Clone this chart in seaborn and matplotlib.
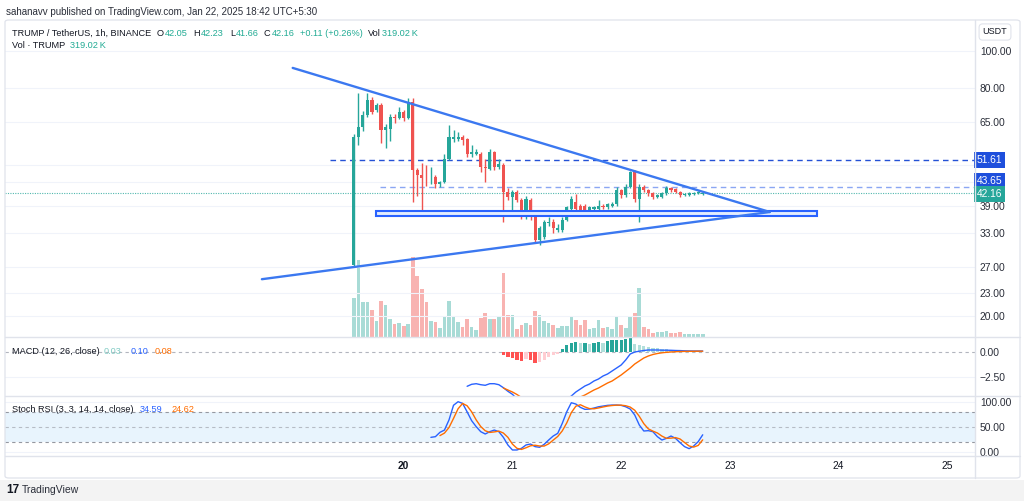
import numpy as np
import pandas as pd
import matplotlib
matplotlib.use("Agg")
import matplotlib.pyplot as plt
import matplotlib.transforms as mtransforms
from matplotlib.patches import Rectangle, FancyBboxPatch
from matplotlib.lines import Line2D
import seaborn as sns

# ---------------- data (1h candles, index 0 = Jan 19 13:00) ----------------
hours = list(range(78))
opens = [27.3, 59.3, 63.1, 67.8, 74.2, 69.8, 72.0, 61.8, 62.4, 67.0,
         66.4, 69.0, 66.4, 73.4, 48.4, 47.0, 46.3, 46.1, 46.5, 44.7,
         45.1, 52.0, 58.7, 58.7, 59.3, 58.7, 53.6, 53.6, 53.6, 49.4,
         48.9, 54.2, 49.4, 50.0, 42.5, 41.2, 42.5, 40.4, 36.5, 40.4,
         36.5, 31.7, 32.4, 35.1, 35.4, 33.7, 33.7, 35.8, 38.3, 39.9,
         39.1, 39.1, 38.0, 38.3, 38.3, 39.1, 38.7, 39.1, 39.5, 42.9,
         41.6, 43.8, 47.9, 40.8, 43.8, 42.9, 42.1, 41.2, 41.2, 42.1,
         43.6, 43.3, 42.5, 41.6, 41.6, 42.0, 42.1, 42.05]
highs = [60.5, 77.3, 69.5, 77.3, 75.5, 73.0, 73.0, 64.0, 68.0, 68.0,
         71.0, 69.8, 75.0, 75.0, 49.0, 50.5, 50.0, 49.5, 47.0, 45.5,
         53.5, 63.8, 62.0, 61.0, 60.0, 59.0, 56.5, 55.0, 54.2, 52.0,
         55.0, 54.5, 52.0, 50.5, 43.5, 43.0, 43.0, 41.0, 41.5, 41.0,
         37.0, 34.5, 35.8, 36.5, 36.0, 35.0, 36.5, 39.0, 41.5, 42.0,
         39.5, 39.5, 39.0, 39.0, 40.5, 39.5, 39.8, 40.0, 43.8, 43.3,
         44.5, 48.2, 48.4, 44.5, 44.2, 43.3, 42.5, 42.0, 42.4, 43.9,
         43.8, 43.5, 42.8, 42.2, 42.4, 42.5, 42.6, 42.23]
lows = [27.0, 56.5, 61.5, 67.0, 68.0, 69.0, 57.0, 55.3, 58.0, 64.5,
        66.0, 65.5, 66.0, 40.0, 41.5, 37.6, 44.0, 44.5, 43.5, 43.8,
        44.8, 51.5, 57.5, 58.0, 56.5, 52.5, 52.5, 53.0, 48.0, 45.1,
        48.5, 48.5, 48.8, 35.4, 40.5, 38.0, 40.0, 36.0, 36.0, 35.8,
        31.1, 30.8, 32.0, 34.5, 33.0, 33.2, 33.2, 35.5, 38.0, 38.0,
        37.5, 37.0, 37.5, 37.8, 37.8, 38.3, 38.3, 38.7, 39.0, 41.0,
        41.2, 43.5, 40.0, 35.4, 42.5, 41.5, 40.8, 40.9, 40.9, 41.8,
        42.5, 42.1, 41.3, 41.4, 41.4, 41.8, 41.9, 41.66]
closes = [59.3, 63.1, 67.8, 74.2, 69.0, 72.0, 61.8, 63.1, 67.0, 66.4,
          69.0, 66.4, 73.4, 48.4, 47.0, 46.3, 46.1, 46.3, 44.7, 45.1,
          52.0, 59.3, 59.3, 59.3, 58.1, 53.6, 54.2, 54.2, 49.4, 49.2,
          54.2, 49.4, 50.4, 42.5, 41.2, 42.5, 40.4, 36.5, 40.8, 36.5,
          31.7, 34.1, 35.4, 35.4, 34.1, 34.1, 35.8, 38.7, 40.8, 38.3,
          38.0, 37.8, 38.7, 38.7, 39.1, 38.7, 39.5, 39.5, 42.9, 41.6,
          43.8, 47.9, 40.8, 43.8, 42.9, 42.1, 41.2, 41.6, 42.1, 43.6,
          42.9, 42.5, 41.6, 41.9, 42.2, 42.3, 42.5, 42.16]
volume_k = [3680, 7200, 3300, 3300, 2560, 1500, 3360, 2980, 1700, 1220,
            1280, 1060, 1220, 7520, 5760, 4480, 3300, 1500, 1380, 800,
            1860, 3360, 1860, 1440, 960, 1700, 960, 640, 1820, 2240,
            1700, 1700, 1860, 5980, 2080, 2080, 740, 1120, 1280, 1120,
            2460, 2080, 1500, 1280, 1120, 800, 1060, 1060, 2020, 1600,
            1120, 1600, 740, 800, 1600, 800, 960, 740, 1860, 1120,
            800, 1920, 2240, 4580, 960, 740, 420, 480, 480, 540,
            420, 420, 480, 320, 320, 320, 320, 319]

nan = np.nan
macd_line = [nan] * 25 + [-3.43, -3.23, -3.17, -3.27, -3.33, -3.17, -3.17, -3.27, -3.57, -3.93,
                          -4.23, -4.7, -5.2, -5.3, -5.5, -6.0, -6.1, -5.9, -5.6, -5.4,
                          -5.2, -5.0, -4.7, -4.4, -4.0, -3.7, -3.4, -3.2, -2.9, -2.7,
                          -2.4, -2.2, -1.9, -1.6, -1.3, -0.8, -0.2, 0.0, 0.08, 0.15,
                          0.2, 0.2, 0.2, 0.18, 0.18, 0.17, 0.15, 0.14, 0.12, 0.11,
                          0.1, 0.1, 0.1]
macd_signal = [nan] * 33 + [-3.6, -3.8, -4.0, -4.25, -4.55, -4.8, -5.0, -5.2, -5.3, -5.3,
                            -5.3, -5.25, -5.15, -5.1, -5.0, -4.9, -4.7, -4.5, -4.3, -4.05,
                            -3.8, -3.6, -3.35, -3.1, -2.9, -2.6, -2.3, -1.95, -1.6, -1.2,
                            -0.9, -0.6, -0.4, -0.25, -0.15, -0.08, -0.03, 0.0, 0.03, 0.05,
                            0.06, 0.07, 0.07, 0.08, 0.08]
macd_hist = [nan] * 33 + [-0.33, -0.5, -0.6, -0.77, -0.93, -0.7, -0.83, -1.07, -1.03, -0.77,
                          -0.5, -0.33, -0.17, 0.33, 0.67, 0.9, 1.0, 0.9, 0.9, 0.83,
                          0.9, 1.0, 0.9, 1.1, 1.17, 1.23, 1.23, 1.33, 1.43, 0.83,
                          0.67, 0.57, 0.5, 0.43, 0.37, 0.3, 0.27, 0.23, 0.2, 0.17,
                          0.13, 0.1, 0.1, 0.07, 0.03]
stoch_k = [nan] * 17 + [29.6, 30.9, 39.5, 44, 64, 93, 100, 96.7, 80, 62.5,
                        50.7, 40.8, 36.2, 40.8, 44, 40.8, 29.6, 14.5, 4.6, 4.6,
                        7.9, 14.5, 16.4, 11.2, 9.9, 15.8, 24.3, 32.2, 37.5, 57.2,
                        80.3, 98, 95.4, 88.8, 84.9, 85.5, 87.5, 90, 91.4, 92.8,
                        93.4, 93.4, 92.8, 90, 85.5, 73.7, 54, 42.1, 42.8, 40.8,
                        30.9, 24.3, 27.6, 32.2, 27.6, 19, 11.2, 7.2, 12.5, 21,
                        34.59]
stoch_d = [nan] * 19 + [33, 38, 49, 67, 86, 96.6, 92, 80, 64, 51,
                        42.6, 39.3, 40.3, 41.9, 38.1, 29.6, 16.2, 7.9, 5.7, 9,
                        12.9, 14, 12.5, 12.3, 16.7, 24.1, 31.3, 42.3, 58.3, 78.5,
                        91.2, 94, 89.7, 86.4, 86, 87.7, 89.6, 91.4, 92.5, 93.2,
                        93.2, 92.1, 89.4, 83.1, 71.1, 56.6, 46.3, 41.9, 38.2, 32,
                        27.6, 28, 29.1, 26.3, 19.3, 12.5, 10.3, 13.6, 24.62]

# drawings (x in candle index, y in price)
upper_trend_x = [-13.5, 91.8]
upper_trend_y = [90.2, 37.6]
lower_trend_x = [-20.3, 91.8]
lower_trend_y = [25.0, 37.6]
zone_x = [4.9, 102.2]
zone_y = [36.7, 37.8]
level_hi = 51.61
level_mid = 43.65
last_price = 42.16

price_ticks = [100, 80, 65, 50, 45, 39, 33, 27, 23, 20]
price_tick_labels = ["100.00", "80.00", "65.00", "", "", "39.00", "33.00", "27.00", "23.00", "20.00"]
day_ticks = [11, 35, 59, 83, 107, 131]
day_labels = ["20", "21", "22", "23", "24", "25"]

# ---------------- styling ----------------
sns.set_theme(style="white")
plt.rcParams['font.family'] = ['Liberation Sans', 'DejaVu Sans']
plt.rcParams['axes.unicode_minus'] = True
plt.rcParams['patch.force_edgecolor'] = False

UP = "#26a69a"
DN = "#ef5350"
UP_V = "#a8dbd6"
DN_V = "#f8b3b1"
TXT = "#131722"
GRID = "#f0f3fa"
SEP = "#e0e3eb"
TICKC = "#2a2e39"
FS = 6.6

W, H = 1024, 501
fig = plt.figure(figsize=(W / 100, H / 100), dpi=100)
fig.patch.set_facecolor("white")


def fx(px):
    return px / W


def fy(py):
    return 1 - py / H


LX, RX = 5, 975


def pane(top, bottom, **kw):
    return fig.add_axes([fx(LX), fy(bottom), (RX - LX) / W, (bottom - top) / H], **kw)


XMIN, XMAX = -77, 137.1

ax_v = pane(22, 337)
ax_p = pane(22, 337, sharex=ax_v)
ax_m = pane(337, 396, sharex=ax_v)
ax_s = pane(396, 456, sharex=ax_v)

for a in (ax_v, ax_p, ax_m, ax_s):
    for sp in a.spines.values():
        sp.set_visible(False)
    a.set_facecolor("none")
    a.tick_params(axis="x", which="both", bottom=False, labelbottom=False)
ax_v.set_facecolor("white")
ax_v.set_xlim(XMIN, XMAX)

# ---- volume ----
df = pd.DataFrame({"hour": hours, "open": opens, "high": highs, "low": lows,
                   "close": closes, "vol": volume_k})
is_up = df["close"] >= df["open"]
ax_v.bar(df["hour"], df["vol"], width=0.8, color=np.where(is_up, UP_V, DN_V),
         linewidth=0, zorder=2)
ax_v.set_ylim(0, 29600)
ax_v.set_yticks([])

# ---- price pane ----
ax_p.set_yscale("log")
ax_p.set_ylim(17.6, 119.2)
ax_p.yaxis.set_minor_locator(matplotlib.ticker.NullLocator())
ax_p.yaxis.tick_right()
ax_p.set_yticks(price_ticks)
ax_p.set_yticklabels(price_tick_labels)
ax_p.yaxis.set_minor_formatter(matplotlib.ticker.NullFormatter())
ax_p.tick_params(axis="y", which="both", length=0, pad=3.5, labelsize=7.4, labelcolor=TICKC)
for t in price_ticks:
    ax_p.axhline(t, color=GRID, lw=0.8, zorder=0)

# candles
cols = np.where(is_up, UP, DN)
ax_p.vlines(df["hour"], df["low"], df["high"], colors=cols, lw=1.0, zorder=3)
body_lo = np.minimum(df["open"], df["close"])
body_h = np.maximum(np.abs(df["close"] - df["open"]), body_lo * 0.005)
ax_p.bar(df["hour"], body_h, bottom=body_lo, width=0.68, color=cols, linewidth=0, zorder=4)

# levels
ax_p.hlines(level_hi, -5.3, XMAX, color="#2451d6", ls=(0, (4, 3)), lw=1.0, zorder=2)
ax_p.hlines(level_mid, 5.7, XMAX, color="#8aa6f3", ls=(0, (4, 3)), lw=1.0, zorder=2)
ax_p.axhline(last_price, color=UP, ls=(0, (1, 1.2)), lw=0.8, alpha=0.8, zorder=2)

# support zone
ax_p.add_patch(Rectangle((zone_x[0], zone_y[0]), zone_x[1] - zone_x[0], zone_y[1] - zone_y[0],
                         facecolor="#e3ecfd", edgecolor="#2962ff", lw=1.5, zorder=5))

# triangle trend lines
tri = pd.DataFrame({"x": upper_trend_x + lower_trend_x,
                    "y": upper_trend_y + lower_trend_y,
                    "line": ["upper", "upper", "lower", "lower"]})
sns.lineplot(data=tri, x="x", y="y", units="line", estimator=None, sort=False,
             color="#3b78f0", lw=1.7, ax=ax_p, zorder=6)
ax_p.set_xlabel("")
ax_p.set_ylabel("")
ax_p.set_xlim(XMIN, XMAX)

# price labels on axis
btr = mtransforms.blended_transform_factory(ax_p.transAxes, ax_p.transData)
box_kw = dict(ha="left", va="center", fontsize=7.4, color="white",
              annotation_clip=False, zorder=10, textcoords="offset points", xycoords=btr)
ax_p.annotate("51.61", xy=(1.002, level_hi), xytext=(0, 0),
              bbox=dict(boxstyle="square,pad=0.28", fc="#1e4fdc", ec="none"), **box_kw)
ax_p.annotate("43.65", xy=(1.002, level_mid), xytext=(0, 4.5),
              bbox=dict(boxstyle="square,pad=0.28", fc="#1e4fdc", ec="none"), **box_kw)
ax_p.annotate("42.16", xy=(1.002, last_price), xytext=(0, -0.5),
              bbox=dict(boxstyle="square,pad=0.28", fc=UP, ec="none"), **box_kw)

# ---- MACD pane ----
ind = pd.DataFrame({"hour": hours, "macd": macd_line, "signal": macd_signal, "hist": macd_hist,
                    "k": stoch_k, "d": stoch_d})
h = ind["hist"].to_numpy()
hcols = []
for i in range(len(h)):
    prev = h[i - 1] if i > 0 and not np.isnan(h[i - 1]) else 0.0
    if np.isnan(h[i]):
        hcols.append("none")
    elif h[i] >= 0:
        hcols.append("#26a69a" if h[i] >= prev else "#b2dfdb")
    else:
        hcols.append("#ff5252" if h[i] <= prev else "#ffcdd2")
ax_m.bar(ind["hour"], np.nan_to_num(h), width=0.72, color=hcols, linewidth=0, zorder=2)
ax_m.axhline(0, color="#b2b5be", ls=(0, (3, 3)), lw=0.8, zorder=1)
ax_m.axhline(-2.5, color=GRID, lw=0.8, zorder=0)
sns.lineplot(data=ind, x="hour", y="macd", color="#2962ff", lw=1.0, ax=ax_m, zorder=3)
sns.lineplot(data=ind, x="hour", y="signal", color="#ff6d00", lw=1.0, ax=ax_m, zorder=3)
ax_m.set_ylim(-4.4, 1.5)
ax_m.yaxis.tick_right()
ax_m.set_yticks([0, -2.5])
ax_m.set_yticklabels(["0.00", "\u22122.50"])
ax_m.tick_params(axis="y", length=0, pad=3.5, labelsize=7.4, labelcolor=TICKC)
ax_m.set_xlabel("")
ax_m.set_ylabel("")

# ---- Stoch RSI pane ----
ax_s.axhspan(20, 80, color="#2196f3", alpha=0.1, lw=0, zorder=0)
for lv in (80, 50, 20):
    ax_s.axhline(lv, color="#9598a1", ls=(0, (3, 3)), lw=0.8, zorder=1,
                 alpha=0.6 if lv == 50 else 1.0)
ax_s.axhline(100, color=GRID, lw=0.8, zorder=0)
ax_s.axhline(0, color=GRID, lw=0.8, zorder=0)
sns.lineplot(data=ind, x="hour", y="k", color="#2962ff", lw=1.0, ax=ax_s, zorder=3)
sns.lineplot(data=ind, x="hour", y="d", color="#ff6d00", lw=1.0, ax=ax_s, zorder=3)
ax_s.set_ylim(-7.3, 111.3)
ax_s.yaxis.tick_right()
ax_s.set_yticks([100, 50, 0])
ax_s.set_yticklabels(["100.00", "50.00", "0.00"])
ax_s.tick_params(axis="y", length=0, pad=3.5, labelsize=7.4, labelcolor=TICKC)
ax_s.set_xlabel("")
ax_s.set_ylabel("")
ax_s.set_xlim(XMIN, XMAX)

# ---------------- frame, separators ----------------
fig.patches.append(FancyBboxPatch((fx(5), fy(478)), fx(1020) - fx(5), (478 - 20) / H,
                                  boxstyle="round,pad=0,rounding_size=0.004",
                                  transform=fig.transFigure, fc="none", ec=SEP, lw=0.9))
for yy in (337, 396, 456):
    fig.add_artist(Line2D([fx(5), fx(1020)], [fy(yy), fy(yy)], color=SEP, lw=1.0,
                          transform=fig.transFigure))
fig.add_artist(Line2D([fx(RX), fx(RX)], [fy(20), fy(478)], color=SEP, lw=1.0,
                      transform=fig.transFigure))
fig.patches.append(Rectangle((0, 0), 1, (501 - 480) / H, transform=fig.transFigure,
                             fc="#f3f3f3", ec="none"))

# time axis labels
xtr = mtransforms.blended_transform_factory(ax_s.transData, fig.transFigure)
for xt, lab in zip(day_ticks, day_labels):
    fig.text(xt, fy(466), lab, transform=xtr, ha="center", va="center", fontsize=7.4,
             color=TXT, fontweight="bold" if lab == "20" else "normal")

renderer = fig.canvas.get_renderer()


def ptext(x, y, s, color=TXT, size=FS, **kw):
    return fig.text(fx(x), fy(y), s, ha="left", va="center", fontsize=size, color=color, **kw)


def pair(x, y, label, value, vcolor):
    t = ptext(x, y, label)
    bb = t.get_window_extent(renderer)
    ptext(bb.x1 + 0.8, y, value, vcolor)


VAL = "#22ab94"
ptext(6, 12, "sahanavv published on TradingView.com, Jan 22, 2025 18:42 UTC+5:30", size=7, color=TICKC)
ptext(12, 33, "TRUMP / TetherUS, 1h, BINANCE")
pair(157, 33, "O", "42.05", VAL)
pair(193, 33, "H", "42.23", VAL)
pair(230, 33, "L", "41.66", VAL)
pair(264, 33, "C", "42.16", VAL)
ptext(300, 33, "+0.11 (+0.26%)", VAL)
pair(368, 33, "Vol", "319.02\u2009K", VAL)
ptext(12, 46, "Vol \u00b7 TRUMP"); ptext(70, 46, "319.02\u2009K", VAL)

ptext(12, 351, "MACD (12, 26, close)")
ptext(104, 351, "0.03", "#80cbc4")
ptext(131, 351, "0.10", "#2962ff")
ptext(155, 351, "0.08", "#ff6d00")

ptext(12, 410, "Stoch RSI (3, 3, 14, 14, close)")
ptext(140, 410, "34.59", "#2962ff")
ptext(171, 410, "24.62", "#ff6d00")

fig.text(fx(995), fy(32), "USDT", ha="center", va="center", fontsize=6.5, color=TXT,
         bbox=dict(boxstyle="round,pad=0.4", fc="white", ec=SEP, lw=0.8))

ptext(6, 490, "17", size=8.5, fontweight="bold")
ptext(22, 490, "TradingView", size=7.5, color=TICKC)

fig.savefig("out.png", dpi=100, facecolor="white")
